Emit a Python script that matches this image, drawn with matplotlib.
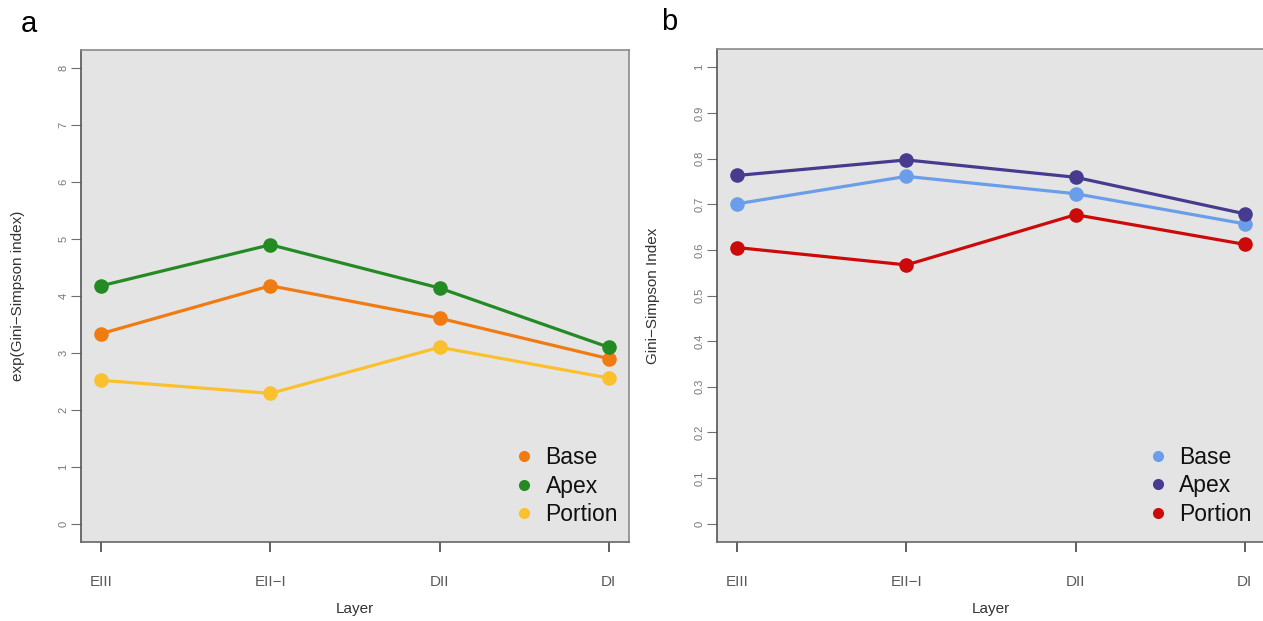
import matplotlib
matplotlib.use("Agg")
import matplotlib.pyplot as plt
from matplotlib.lines import Line2D

plt.rcParams["font.family"] = ["Liberation Sans", "DejaVu Sans"]

# Datos
capas = ["EIII", "EII\u2212I", "DII", "DI"]
series = ["Base", "Apex", "Portion"]

exp_base = [3.34, 4.18, 3.61, 2.90]
exp_apex = [4.18, 4.90, 4.14, 3.10]
exp_portion = [2.52, 2.29, 3.10, 2.56]

gs_base = [0.701, 0.761, 0.723, 0.657]
gs_apex = [0.763, 0.797, 0.759, 0.679]
gs_portion = [0.605, 0.567, 0.677, 0.612]

colores_a = ["#EF7B12", "#248A24", "#FBC02D"]
colores_b = ["#6A9EEA", "#463B8F", "#CC0A0A"]

fondo = "#E4E4E4"
gris = "#6E6E6E"

W, H = 1263, 621
fig = plt.figure(figsize=(W / 100, H / 100), dpi=100)
ax_a = fig.add_axes([81 / W, 79 / H, 548 / W, 492 / H])
ax_b = fig.add_axes([717 / W, 79 / H, 548 / W, 493 / H])


def dibujar(ax, datos, colores, ymax, yticks, yticklabels, ylabel, xlab, xleg):
    x = range(len(capas))
    for valores, color in zip(datos, colores):
        ax.plot(x, valores, color=color, lw=2.3, marker="o", ms=10.5,
                markeredgewidth=0, zorder=3)
    ax.set_facecolor(fondo)
    ax.set_xlim(-0.12, 3.12)
    ax.set_ylim(-0.04 * ymax, ymax * 1.04)
    ax.set_xticks(list(x))
    ax.set_xticklabels(capas, fontsize=11, color="#5A5A5A")
    ax.set_yticks(yticks)
    ax.set_yticklabels(yticklabels, fontsize=8, color="#777777",
                       rotation=90, va="center")
    ax.tick_params(axis="x", length=7, width=1.2, color="#444444", pad=17)
    ax.tick_params(axis="y", length=7, width=0.8, color=gris, pad=2)
    for lado in ax.spines.values():
        lado.set_color("#8A8A8A")
        lado.set_linewidth(1.2)
    ax.spines["left"].set_color("#555555")
    ax.spines["bottom"].set_color("#666666")
    ax.set_xlabel("Layer", fontsize=11, color="#333333", labelpad=9)
    ax.set_ylabel(ylabel, fontsize=11, color="#333333")
    ax.yaxis.set_label_coords(xlab, 0.5)
    handles = [Line2D([], [], ls="none", marker="o", ms=8, color=c,
                      markeredgewidth=0) for c in colores]
    ax.legend(handles, series, loc="lower right", frameon=False,
              bbox_to_anchor=(xleg, 0.032), borderaxespad=0, borderpad=0,
              fontsize=16.5, handlelength=0.6, handletextpad=0.65,
              labelspacing=0.25, labelcolor="#111111")


dibujar(ax_a, [exp_base, exp_apex, exp_portion], colores_a, 8,
        list(range(9)), [str(i) for i in range(9)],
        "exp(Gini\u2212Simpson index)", -0.102, 0.98)
ticks_b = [i / 10 for i in range(11)]
dibujar(ax_b, [gs_base, gs_apex, gs_portion], colores_b, 1,
        ticks_b, ["0", "0.1", "0.2", "0.3", "0.4", "0.5", "0.6", "0.7",
                  "0.8", "0.9", "1"],
        "Gini\u2212Simpson Index", -0.104, 0.976)

fig.text(21 / W, 1 - 32 / H, "a", fontsize=21, va="baseline")
fig.text(661 / W, 1 - 30 / H, "b", fontsize=21, va="baseline")

fig.savefig("out.png", dpi=100)
